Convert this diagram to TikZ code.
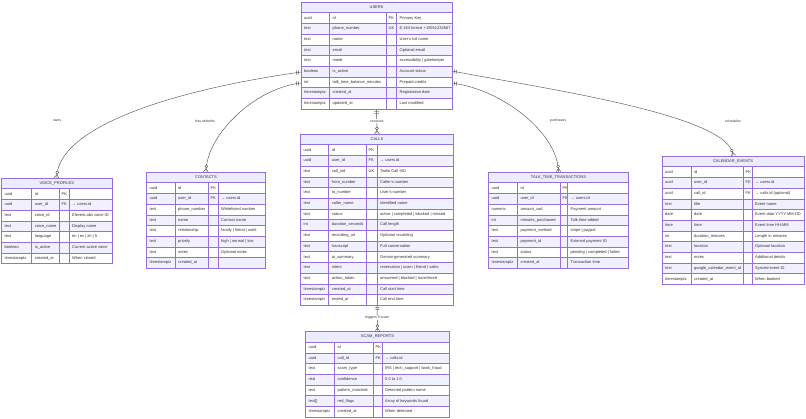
\documentclass[tikz,border=0pt]{standalone}
\usepackage{fontspec}
\setmainfont{Liberation Sans}
\usepackage{tikz}
\usetikzlibrary{decorations.markings}
\definecolor{borda}{HTML}{9370DB}
\definecolor{fundocab}{HTML}{ECECFF}
\definecolor{linhapar}{HTML}{F1F0FF}
\definecolor{texto}{HTML}{333333}
\definecolor{linharel}{HTML}{555555}

\newcommand{\hlin}{10.7}
% #1 nome, #2 titulo, #3 x esq., #4 y topo, #5-#7 divisorias, #8 x dir., #9 linhas
\newcommand{\tabela}[9]{%
  \fill[fundocab] (#3,#4) rectangle (#8,{#4+\hlin});
  \node[cab] at ({(#3+#8)/2},{#4+\hlin/2}) {#2};
  \foreach \tp/\nm/\ch/\cm [count=\n] in {#9} {
    \ifodd\n\relax\def\cor{white}\else\def\cor{linhapar}\fi
    \filldraw[fill=\cor, grade] (#3,{#4+\n*\hlin}) rectangle (#8,{#4+(\n+1)*\hlin});
    \node[cel] at ({#3+3},{#4+(\n+0.5)*\hlin}) {\tp};
    \node[cel] at ({#5+3},{#4+(\n+0.5)*\hlin}) {\nm};
    \node[cel] at ({#6+2.5},{#4+(\n+0.5)*\hlin}) {\ch};
    \node[cel] at ({#7+3},{#4+(\n+0.5)*\hlin}) {\cm};
    \xdef\nlin{\n}
  }
  \foreach \xc in {#5,#6,#7}
    \draw[grade] (\xc,{#4+\hlin}) -- (\xc,{#4+(\nlin+1)*\hlin});
  \node[caixa, minimum width={(#8-#3)*1pt}, minimum height={(\nlin+1)*\hlin*1pt}] (#1) at (#3,#4) {};
}

\begin{document}
\begin{tikzpicture}[x=1pt, y=-1pt,
        grade/.style={draw=borda, line width=0.5pt},
        caixa/.style={grade, rectangle, anchor=north west, inner sep=0pt, outer sep=0pt},
        cel/.style={anchor=west, inner sep=0pt, text height=2.9pt, text depth=0.9pt,
                    font=\fontsize{4}{4.8}\selectfont, text=texto},
        cab/.style={cel, anchor=center},
        traco/.style={draw=linharel, line width=0.45pt},
        um/.style={postaction={decorate, decoration={markings,
            mark=at position 2.5pt with {\draw[traco] (0,-2.2pt) -- (0,2.2pt);},
            mark=at position 4.5pt with {\draw[traco] (0,-2.2pt) -- (0,2.2pt);}}}},
        muitos/.style={postaction={decorate, decoration={markings,
            mark=at position -5.6pt with {\filldraw[traco, fill=white] (0,0) circle (1.5pt);},
            mark=at position -3.6pt with {\draw[traco] (3.6pt,2.4pt) -- (0,0) -- (3.6pt,-2.4pt);}}}},
        rel/.style={traco, um, muitos},
        rotulo/.style={font=\fontsize{3.5}{4}\selectfont, text=texto, fill=white, inner sep=0.6pt}
    ]
    \useasboundingbox (0,0) rectangle (806,418);
    % Tabela central
    \tabela{users}{USERS}{301}{2}{329.5}{386}{396.5}{452}{
        uuid/id/PK/Primary Key,
        text/phone\_number/UK/E.164 format +15551234567,
        text/name//User's full name,
        text/email//Optional email,
        text/mode//accessibility | gatekeeper,
        boolean/is\_active//Account status,
        int/talk\_time\_balance\_minutes//Prepaid credits,
        timestamptz/created\_at//Registration date,
        timestamptz/updated\_at//Last modified}
    \tabela{calls}{CALLS}{300.5}{134}{328.7}{366}{377}{453.5}{
        uuid/id/PK/,
        uuid/user\_id/FK/→ users.id,
        text/call\_sid/UK/Twilio Call SID,
        text/from\_number//Caller's number,
        text/to\_number//User's number,
        text/caller\_name//Identified name,
        text/status//active | completed | blocked | missed,
        int/duration\_seconds//Call length,
        text/recording\_url//Optional recording,
        text/transcript//Full conversation,
        text/ai\_summary//Gemini-generated summary,
        text/intent//reservation | scam | friend | sales,
        text/action\_taken//answered | blocked | transferred,
        timestamptz/created\_at//Call start time,
        timestamptz/ended\_at//Call end time}
    \tabela{scam}{SCAM\_REPORTS}{305.5}{331.5}{334.5}{373}{382}{449.5}{
        uuid/id/PK/,
        uuid/call\_id/FK/→ calls.id,
        text/scam\_type//IRS | tech\_support | bank\_fraud,
        real/confidence//0.0 to 1.0,
        text/pattern\_matched//Detected pattern name,
        {text[]}/red\_flags//Array of keywords found,
        timestamptz/created\_at//When detected}
    % Tabelas laterais
    \tabela{voice}{VOICE\_PROFILES}{1.5}{178}{31.7}{59}{69}{112}{
        uuid/id/PK/,
        uuid/user\_id/FK/→ users.id,
        text/voice\_id//ElevenLabs voice ID,
        text/voice\_name//Display name,
        text/language//en | es | zh | fr,
        boolean/is\_active//Current active voice,
        timestamptz/created\_at//When cloned}
    \tabela{contacts}{CONTACTS}{146.5}{172}{175}{208}{218}{265.5}{
        uuid/id/PK/,
        uuid/user\_id/FK/→ users.id,
        text/phone\_number//Whitelisted number,
        text/name//Contact name,
        text/relationship//family | friend | work,
        text/priority//high | normal | low,
        text/notes//Optional notes,
        timestamptz/created\_at//}
    \tabela{talk}{TALK\_TIME\_TRANSACTIONS}{488.5}{172}{517.5}{560}{567.5}{628.5}{
        uuid/id/PK/,
        uuid/user\_id/FK/→ users.id,
        numeric/amount\_usd//Payment amount,
        int/minutes\_purchased//Talk time added,
        text/payment\_method//stripe | paypal,
        text/payment\_id//External payment ID,
        text/status//pending | completed | failed,
        timestamptz/created\_at//Transaction time}
    \tabela{calendar}{CALENDAR\_EVENTS}{662}{156}{691}{743}{752}{804}{
        uuid/id/PK/,
        uuid/user\_id/FK/→ users.id,
        uuid/call\_id/FK/→ calls.id (optional),
        text/title//Event name,
        date/date//Event date YYYY-MM-DD,
        time/time//Event time HH:MM,
        int/duration\_minutes//Length in minutes,
        text/location//Optional location,
        text/notes//Additional details,
        text/google\_calendar\_event\_id//Synced event ID,
        timestamptz/created\_at//When booked}

    % Relacoes
    \coordinate (uOwns) at (users.west |- 0,72);
    \coordinate (uWhite) at (users.west |- 0,83);
    \coordinate (uSched) at (users.east |- 0,71);
    \coordinate (uPurch) at (users.east |- 0,83);
    \draw[rel] (uOwns) .. controls (160,92) and (57,130) .. (voice.north);
    \draw[rel] (uWhite) .. controls (255,88) and (206,135) .. (contacts.north);
    \draw[rel] (users.south) -- (calls.north);
    \draw[rel] (uPurch) .. controls (505,90) and (558.5,135) .. (talk.north);
    \draw[rel] (uSched) .. controls (540,88) and (733,115) .. (calendar.north);
    \draw[rel] (calls.south) -- (scam.north);

    \node[rotulo] (rOwns) at (57,121) {owns};
    \node[rotulo] (rWhite) at (205,121) {has whitelist};
    \node[rotulo] (rRecv) at (377,121) {receives};
    \node[rotulo] (rPurch) at (558,121) {purchases};
    \node[rotulo] (rSched) at (733,121) {schedules};
    \node[rotulo] (rScam) at (377,318) {triggers if scam};
\end{tikzpicture}
\end{document}
